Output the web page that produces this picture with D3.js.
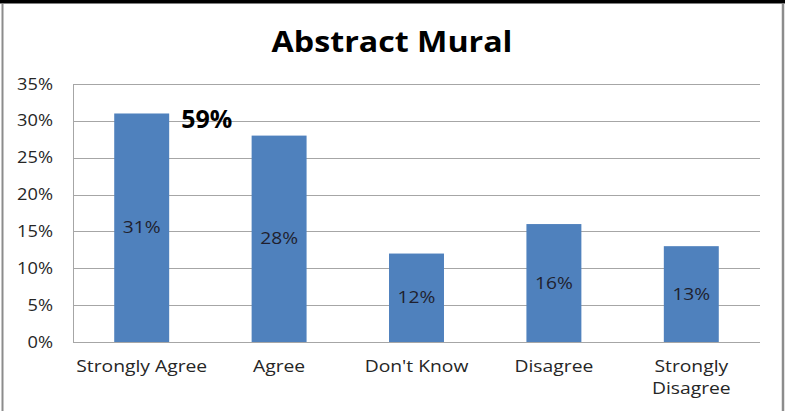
<!DOCTYPE html>
<html>
<head>
<meta charset="utf-8">
<script src="https://cdn.jsdelivr.net/npm/d3@7"></script>
<style>
  html, body { margin: 0; padding: 0; background: #fff; }
  svg { display: block; }
</style>
</head>
<body>
<svg id="chart" width="791" height="411"></svg>
<script>
// Survey responses for the abstract mural
const categories = ["Strongly Agree", "Agree", "Don't Know", "Disagree", "Strongly Disagree"];
const shares = [31, 28, 12, 16, 13];
const tickValues = [0, 5, 10, 15, 20, 25, 30, 35];
const combinedLabel = "59%"; // Strongly Agree + Agree
const title = "Abstract Mural";

const svg = d3.select("#chart");
const W = 791, H = 411;
const plot = { left: 73, right: 760, top: 84, bottom: 342 };
const font = "'Open Sans', 'Liberation Sans', sans-serif";

// Place a text at (px, py) and widen it horizontally around its anchor
function place(sel, px, py, sx) {
  sel.attr("x", 0).attr("y", 0)
    .attr("transform", (d, i) => {
      const X = typeof px === "function" ? px(d, i) : px;
      const Y = typeof py === "function" ? py(d, i) : py;
      return `translate(${X},${Y}) scale(${sx},1)`;
    });
  return sel;
}

// Frame: thick dark rule along the top, thin grey sides
svg.append("rect").attr("x", 0).attr("y", 0).attr("width", 785).attr("height", 3.5).attr("fill", "#000");
svg.append("line").attr("x1", 2.5).attr("x2", 2.5).attr("y1", 4).attr("y2", H)
  .attr("stroke", "#8c8c8c").attr("stroke-width", 2);
svg.append("line").attr("x1", 783).attr("x2", 783).attr("y1", 4).attr("y2", H)
  .attr("stroke", "#8c8c8c").attr("stroke-width", 2.5);

const x = d3.scaleBand().domain(categories).range([plot.left, plot.right]).paddingInner(0.6).paddingOuter(0.3);
const y = d3.scaleLinear().domain([0, 35]).range([plot.bottom, plot.top]);

// Gridlines
svg.append("g").selectAll("line").data(tickValues.filter(d => d > 0)).join("line")
  .attr("x1", plot.left).attr("x2", plot.right)
  .attr("y1", d => Math.round(y(d)) + 0.5).attr("y2", d => Math.round(y(d)) + 0.5)
  .attr("stroke", "#a6a6a6").attr("stroke-width", 1);

// Y axis
const yAxis = d3.axisLeft(y).tickValues(tickValues).tickFormat(d => d + "%").tickSize(0).tickPadding(20);
const gy = svg.append("g").attr("transform", `translate(${plot.left},0)`).call(yAxis);
gy.select(".domain").attr("stroke", "#a6a6a6");
gy.selectAll("text").attr("font-family", font).attr("font-size", 16).attr("fill", "#262626")
  .attr("x", 0).attr("transform", "translate(-20,0) scale(1.14,1)");

// Bars
svg.append("g").selectAll("rect").data(shares).join("rect")
  .attr("x", (d, i) => x(categories[i]))
  .attr("y", d => y(d))
  .attr("width", x.bandwidth())
  .attr("height", d => y(0) - y(d))
  .attr("fill", "#4f81bd");

// X axis baseline
svg.append("line").attr("x1", plot.left).attr("x2", plot.right)
  .attr("y1", plot.bottom + 0.5).attr("y2", plot.bottom + 0.5)
  .attr("stroke", "#a6a6a6");

// Value labels, centred in each bar
place(svg.append("g").selectAll("text").data(shares).join("text"),
    (d, i) => x(categories[i]) + x.bandwidth() / 2,
    d => (y(d) + y(0)) / 2, 1.2)
  .attr("dy", "0.35em")
  .attr("text-anchor", "middle")
  .attr("font-family", font).attr("font-size", 16).attr("fill", "#1f1f2e")
  .text(d => d + "%");

// Category labels
const xLabels = place(svg.append("g").selectAll("text").data(categories).join("text"),
    d => x(d) + x.bandwidth() / 2, 372, 1.17)
  .attr("text-anchor", "middle")
  .attr("font-family", font).attr("font-size", 16.5).attr("fill", "#262626");
xLabels.each(function(d) {
  const t = d3.select(this);
  const parts = d === "Strongly Disagree" ? ["Strongly", "Disagree"] : [d];
  parts.forEach((p, k) => {
    t.append("tspan").attr("x", 0).attr("dy", k === 0 ? 0 : 22).text(p);
  });
});

// Combined agreement callout
svg.append("text")
  .attr("x", x(categories[0]) + x.bandwidth() + 12)
  .attr("y", 128)
  .attr("font-family", font).attr("font-weight", "bold").attr("font-size", 25).attr("fill", "#000")
  .text(combinedLabel);

// Title
place(svg.append("text"), 392, 52, 1.15)
  .attr("text-anchor", "middle")
  .attr("font-family", font).attr("font-weight", "bold").attr("font-size", 28).attr("fill", "#000")
  .text(title);
</script>
</body>
</html>
